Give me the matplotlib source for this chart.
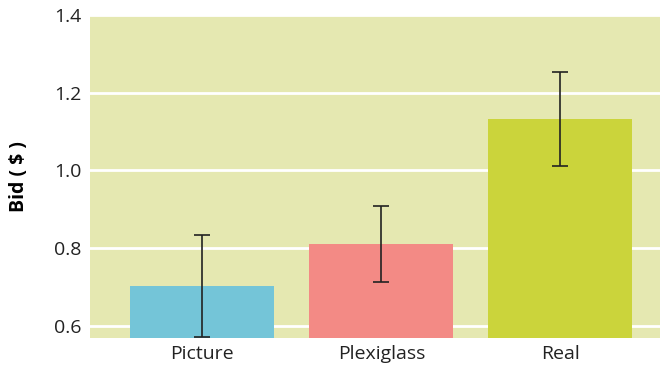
import matplotlib.pyplot as plt

categories = ['Picture', 'Plexiglass', 'Real']
bids = [0.702, 0.810, 1.132]
errors = [0.131, 0.098, 0.120]
colors = ['#74c5d8', '#f38a85', '#cbd43b']
y_ticks = [0.6, 0.8, 1.0, 1.2, 1.4]

plt.rcParams['font.family'] = ['Open Sans', 'DejaVu Sans']

fig = plt.figure(figsize=(6.6, 3.65), dpi=100)
ax = fig.add_axes([90 / 660, 27 / 365, 570 / 660, 323 / 365])
ax.set_facecolor('#e5e8b1')

x = list(range(len(categories)))
ax.bar(x, bids, width=0.804, color=colors, zorder=2)
ax.errorbar(x, bids, yerr=errors, fmt='none', ecolor='#222222', elinewidth=1.2,
            capsize=6, capthick=1.2, zorder=3)

ax.set_xlim(-0.628, 2.556)
ax.set_ylim(0.568, 1.4)
ax.set_yticks(y_ticks)
ax.set_yticklabels(['{:.1f}'.format(v) for v in y_ticks])
ax.set_xticks(x)
ax.set_xticklabels(categories)
ax.yaxis.grid(True, color='white', linewidth=2, zorder=1)
ax.set_axisbelow(True)
ax.tick_params(length=0, labelsize=14, colors='#222222', pad=6)
ax.tick_params(axis='x', pad=5)
for s in ax.spines.values():
    s.set_visible(False)
ax.set_ylabel('Bid ( $ )', fontsize=14, fontweight='bold', labelpad=18)

fig.savefig('out.png', dpi=100)
